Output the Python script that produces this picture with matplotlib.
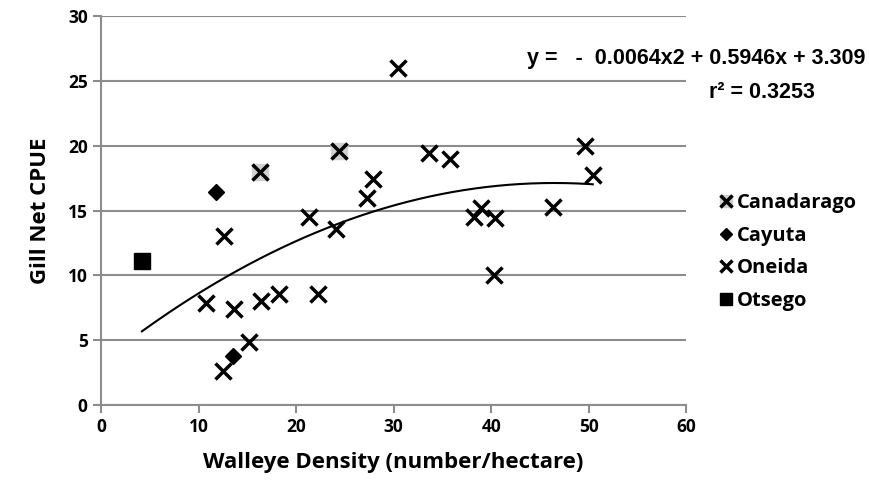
import matplotlib.pyplot as plt
import numpy as np

# data
canadarago_x = [16.3, 24.4]
canadarago_y = [18.0, 19.6]
cayuta_x = [11.8, 13.5]
cayuta_y = [16.4, 3.8]
oneida_x = [12.6, 10.8, 13.6, 16.4, 18.2, 22.2, 15.2, 12.5, 21.3, 30.4, 33.6, 35.8,
            27.9, 27.3, 24.1, 38.9, 38.2, 40.4, 46.3, 49.6, 50.4, 40.3]
oneida_y = [13.0, 7.9, 7.4, 8.0, 8.6, 8.6, 4.9, 2.6, 14.5, 26.0, 19.4, 19.0,
            17.4, 16.0, 13.6, 15.2, 14.5, 14.4, 15.3, 20.0, 17.7, 10.0]
otsego_x = [4.2]
otsego_y = [11.1]
fit_coef = [-0.0064, 0.5946, 3.309]
fit_range = [4.2, 50.4]

txt_font = "Open Sans"

fig = plt.figure(figsize=(8.7, 4.93), dpi=100)
ax = fig.add_axes([0.116, 0.178, 0.673, 0.79])

ax.grid(axis="y", color="#8c8c8c", linewidth=1.5)
ax.set_axisbelow(True)

xs = np.linspace(fit_range[0], fit_range[1], 200)
ax.plot(xs, np.polyval(fit_coef, xs), color="black", linewidth=1.5, zorder=2)

h_bg, = ax.plot(canadarago_x, canadarago_y, "s", color="#d0d0d0", ms=11, ls="none", zorder=3)
h_c, = ax.plot(canadarago_x, canadarago_y, "x", color="black", ms=11, mew=2.5, ls="none", zorder=4)
h_cay, = ax.plot(cayuta_x, cayuta_y, "D", color="black", ms=8, ls="none", zorder=4)
h_on, = ax.plot(oneida_x, oneida_y, "x", color="black", ms=12, mew=2.5, ls="none", zorder=4)
h_ot, = ax.plot(otsego_x, otsego_y, "s", color="black", ms=11, ls="none", zorder=4)

ax.set_xlim(0, 60)
ax.set_ylim(0, 30)
ax.set_xticks(range(0, 61, 10))
ax.set_yticks(range(0, 31, 5))
for s in ["top", "right"]:
    ax.spines[s].set_visible(False)
for s in ["left", "bottom"]:
    ax.spines[s].set_color("#8c8c8c")
    ax.spines[s].set_linewidth(1.5)
ax.tick_params(axis="both", color="#8c8c8c", width=1.5, length=6)
for lab in ax.get_xticklabels() + ax.get_yticklabels():
    lab.set_fontfamily(txt_font)
    lab.set_fontweight("bold")
    lab.set_fontsize(12.5)

ax.set_xlabel("Walleye Density (number/hectare)", fontsize=16, fontweight="bold",
              fontfamily=txt_font, labelpad=11)
ax.set_ylabel("Gill Net CPUE", fontsize=16, fontweight="bold", fontfamily=txt_font, labelpad=12)

fig.text(0.995, 0.882, "y =   -  0.0064x2 + 0.5946x + 3.309", ha="right", va="center",
         fontsize=15.5, fontweight="bold", fontfamily="Liberation Sans")
fig.text(0.937, 0.813, "r² = 0.3253", ha="right", va="center",
         fontsize=15.5, fontweight="bold", fontfamily="Liberation Sans")

leg = fig.legend([(h_bg, h_c), h_cay, h_on, h_ot], ["Canadarago", "Cayuta", "Oneida", "Otsego"],
                 loc="upper left", bbox_to_anchor=(0.807, 0.645), frameon=False,
                 prop={"family": txt_font, "weight": "bold", "size": 14.5},
                 handlelength=0.6, handletextpad=0.25, labelspacing=0.62, markerscale=0.75)

plt.savefig("out.png", dpi=100)
